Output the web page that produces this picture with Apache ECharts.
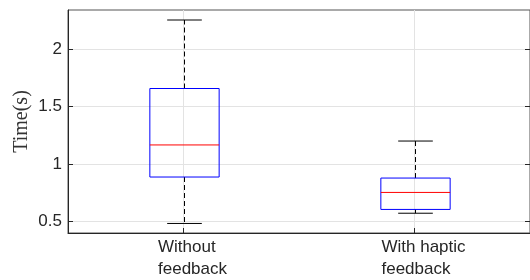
<!DOCTYPE html>
<html>
<head>
<meta charset="utf-8">
<script src="https://cdn.jsdelivr.net/npm/echarts@6/dist/echarts.min.js"></script>
<style>
  html, body { margin: 0; padding: 0; background: #fff; }
  #chart { width: 530px; height: 280px; }
</style>
</head>
<body>
<div id="chart"></div>
<script>
// box plot data
var categories = ['Without\nfeedback', 'With haptic\nfeedback'];
var lowerWhisker = [0.483, 0.572];
var q1 = [0.887, 0.605];
var median = [1.166, 0.753];
var q3 = [1.657, 0.878];
var upperWhisker = [2.253, 1.2];
var yTicks = [0.5, 1, 1.5, 2];

var boxData = categories.map(function (c, i) {
    return [i + 1, lowerWhisker[i], q1[i], median[i], q3[i], upperWhisker[i]];
});

var myChart = echarts.init(document.getElementById('chart'));

var labelFont = 'Liberation Sans, Arial, sans-serif';

function renderBox(params, api) {
    var x = api.value(0);
    var lo = api.coord([x, api.value(1)]);
    var b1 = api.coord([x, api.value(2)]);
    var md = api.coord([x, api.value(3)]);
    var b3 = api.coord([x, api.value(4)]);
    var hi = api.coord([x, api.value(5)]);
    var w = api.size([1, 0])[0] * 0.3;
    var cx = Math.round(lo[0]) + 0.5;
    var cap = w / 2;
    var dash = { stroke: '#000', lineWidth: 1, lineDash: [5, 3] };
    var solid = { stroke: '#000', lineWidth: 1 };
    return {
        type: 'group',
        children: [
            { type: 'line', shape: { x1: cx, y1: b3[1], x2: cx, y2: hi[1] }, style: dash },
            { type: 'line', shape: { x1: cx, y1: b1[1], x2: cx, y2: lo[1] }, style: dash },
            { type: 'line', shape: { x1: cx - cap / 2, y1: hi[1], x2: cx + cap / 2, y2: hi[1] }, style: solid },
            { type: 'line', shape: { x1: cx - cap / 2, y1: lo[1], x2: cx + cap / 2, y2: lo[1] }, style: solid },
            { type: 'rect', shape: { x: cx - w / 2, y: b3[1], width: w, height: b1[1] - b3[1] },
              style: { fill: 'none', stroke: '#0000ff', lineWidth: 1 } },
            { type: 'line', shape: { x1: cx - w / 2, y1: md[1], x2: cx + w / 2, y2: md[1] },
              style: { stroke: '#ff0000', lineWidth: 1 } }
        ]
    };
}

var option = {
    animation: false,
    grid: {
        left: 68, right: -1, top: 10, bottom: 47,
        show: true, borderColor: '#555', borderWidth: 1, backgroundColor: 'transparent'
    },
    xAxis: {
        type: 'value',
        min: 0.5,
        max: 2.5,
        axisLine: { show: true, lineStyle: { color: '#262626' } },
        axisTick: { show: true, inside: true, length: 5, customValues: [1, 2], lineStyle: { color: '#262626' } },
        splitLine: { show: true, lineStyle: { color: '#e3e3e3' } },
        axisLabel: {
            customValues: [1, 2],
            margin: 3,
            padding: [0, 0, 0, 18],
            formatter: function (v) {
                var name = categories[Math.round(v) - 1] || '';
                return name.split('\n').map(function (s) { return '{a|' + s + '}'; }).join('\n');
            },
            rich: {
                a: { align: 'left', fontSize: 17, lineHeight: 22, fontFamily: labelFont, color: '#262626' }
            }
        }
    },
    yAxis: [{
        type: 'value',
        min: 0.4,
        max: 2.34,
        name: 'Time(s)',
        nameLocation: 'middle',
        nameGap: 36,
        nameMoveOverlap: false,
        nameTextStyle: { fontFamily: 'Liberation Serif, serif', fontSize: 20, color: '#333' },
        axisLine: { show: true, lineStyle: { color: '#262626' } },
        axisTick: { show: true, inside: true, length: 5, customValues: yTicks, lineStyle: { color: '#262626' } },
        splitLine: { show: true, lineStyle: { color: '#e3e3e3' } },
        axisLabel: {
            customValues: yTicks,
            margin: 6,
            fontSize: 17,
            fontFamily: labelFont,
            color: '#262626',
            formatter: function (v) { return String(v); }
        }
    }, {
        type: 'value',
        position: 'right',
        min: 0.4,
        max: 2.34,
        axisLine: { show: false },
        axisTick: { show: true, inside: true, length: 5, customValues: yTicks, lineStyle: { color: '#262626' } },
        splitLine: { show: false },
        axisLabel: { show: false }
    }],
    series: [{
        type: 'custom',
        renderItem: renderBox,
        encode: { x: 0, y: [1, 2, 3, 4, 5] },
        data: boxData,
        clip: false
    }]
};

myChart.setOption(option);
</script>
</body>
</html>
